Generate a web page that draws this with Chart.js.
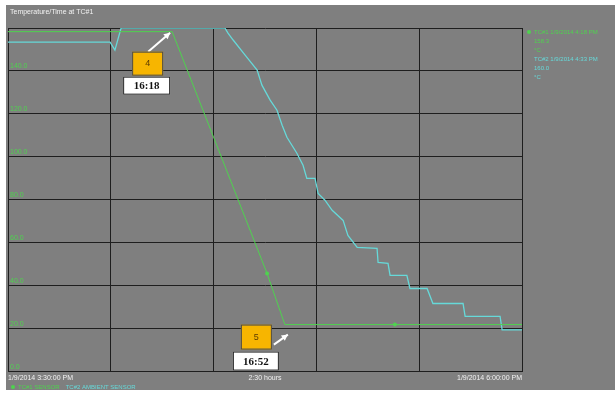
<!DOCTYPE html>
<html>
<head>
<meta charset="utf-8">
<script src="https://cdn.jsdelivr.net/npm/chart.js@4/dist/chart.umd.min.js"></script>
<style>
  body { margin: 0; background: #fff; }
  canvas { display: block; }
</style>
</head>
<body>
<canvas id="myChart" width="615" height="393"></canvas>
<script>
// minutes after 3:30 PM, temperature
const tc1Minutes = [0, 47.9, 75.6, 80.8, 112.9, 150];
const tc1Temps = [158.3, 158.3, 45.7, 21.9, 21.9, 21.9];
const tc1Dots = [0, 0, 2, 0, 2, 0];

const tc2Minutes = [0, 29.8, 31.2, 33.0, 63.3, 64.2, 65.7, 69.2, 72.7, 74.1, 76.5, 78.5, 80.0, 81.4, 84.3,
  86.1, 87.2, 89.6, 90.5, 92.5, 94.6, 97.8, 99.2, 101.9, 107.7, 108.0, 110.9, 111.5, 116.4, 117.3,
  122.3, 124.0, 132.8, 133.4, 143.6, 144.2, 150];
const tc2Temps = [153.4, 153.4, 149.7, 160, 160, 157.6, 154.4, 147.4, 140.4, 133.4, 126.4, 121.7, 114.7, 109.1, 101.7,
  96.1, 90.0, 90.0, 83.0, 79.8, 75.1, 70.4, 63.4, 57.8, 57.4, 50.8, 50.4, 44.8, 44.8, 38.7,
  38.7, 31.7, 31.7, 25.7, 25.7, 19.4, 19.4];

const xTickLabels = { 0: "1/9/2014 3:30:00 PM", 75: "2:30 hours", 150: "1/9/2014 6:00:00 PM" };
const xGrid = [0, 30, 60, 75, 90, 120, 150];

// callouts: [dataset index, point index, number, time]
const callouts = [[0, 1, "4", "16:18"], [0, 3, "5", "16:52"]];

const GREEN = "#4fd24f";
const CYAN = "#66d9d9";
const FONT = "'Liberation Sans', Arial, sans-serif";

function toPoints(xs, ys) {
  return xs.map(function (x, i) { return { x: x, y: ys[i] }; });
}

const background = {
  id: "background",
  beforeDraw(chart) {
    const c = chart.ctx;
    c.save();
    c.fillStyle = "#fff";
    c.fillRect(0, 0, chart.width, chart.height);
    c.fillStyle = "#7f7f7f";
    c.fillRect(6, 5, chart.width - 6, 385);
    c.restore();
  }
};

const texts = {
  id: "texts",
  afterDraw(chart) {
    const c = chart.ctx;
    c.save();
    c.font = "7px " + FONT;
    c.textBaseline = "middle";
    c.textAlign = "left";
    c.fillStyle = "#f2f2f2";
    c.fillText("Temperature/Time at TC#1", 10, 12);

    // right legend
    c.font = "6px " + FONT;
    const lx = chart.chartArea.right + 5;
    c.fillStyle = GREEN;
    c.beginPath();
    c.arc(lx + 2, 32, 2, 0, Math.PI * 2);
    c.fill();
    c.fillText("TC#1 1/9/2014 4:18 PM", lx + 7, 32);
    c.fillText("158.3", lx + 7, 41);
    c.fillText("°C", lx + 7, 50);
    c.fillStyle = CYAN;
    c.fillText("TC#2 1/9/2014 4:33 PM", lx + 7, 59);
    c.fillText("160.0", lx + 7, 68);
    c.fillText("°C", lx + 7, 77);

    // bottom legend
    c.fillStyle = GREEN;
    c.beginPath();
    c.arc(13, 387, 2, 0, Math.PI * 2);
    c.fill();
    c.fillText("TC#1 SENSOR", 18, 387);
    c.fillStyle = CYAN;
    c.fillText("TC#2 AMBIENT SENSOR", 18 + c.measureText("TC#1 SENSOR").width + 6, 387);
    c.restore();
  }
};

const callout = {
  id: "callout",
  afterDatasetsDraw(chart) {
    const c = chart.ctx;
    for (const co of callouts) {
      const pt = chart.getDatasetMeta(co[0]).data[co[1]];
      const ax = pt.x, ay = pt.y;
      let box, lab, tail, tip;
      if (ay < 100) {
        box = [ax - 40, ay + 20, 31, 24];
        lab = [ax - 49, ay + 45, 47, 18];
        tail = [ax - 24, ay + 20];
        tip = [ax - 2, ay + 1];
      } else {
        box = [ax - 44, ay, 31, 25];
        lab = [ax - 52, ay + 27, 46, 19];
        tail = [ax - 11, ay + 20];
        tip = [ax + 3, ay + 10];
      }
      c.save();
      // arrow
      c.strokeStyle = "#fff";
      c.fillStyle = "#fff";
      c.lineWidth = 2;
      c.beginPath();
      c.moveTo(tail[0], tail[1]);
      c.lineTo(tip[0], tip[1]);
      c.stroke();
      const a = Math.atan2(tip[1] - tail[1], tip[0] - tail[0]);
      c.beginPath();
      c.moveTo(tip[0], tip[1]);
      c.lineTo(tip[0] - 7 * Math.cos(a - 0.5), tip[1] - 7 * Math.sin(a - 0.5));
      c.lineTo(tip[0] - 7 * Math.cos(a + 0.5), tip[1] - 7 * Math.sin(a + 0.5));
      c.closePath();
      c.fill();
      // orange box
      c.fillStyle = "#f7b500";
      c.fillRect(box[0], box[1], box[2], box[3]);
      c.strokeStyle = "#4a4a4a";
      c.lineWidth = 1;
      c.strokeRect(box[0] + 0.5, box[1] + 0.5, box[2] - 1, box[3] - 1);
      c.fillStyle = "#5a3a00";
      c.font = "9px " + FONT;
      c.textAlign = "center";
      c.textBaseline = "middle";
      c.fillText(co[2], box[0] + box[2] / 2, box[1] + box[3] / 2);
      // time label
      c.fillStyle = "#fff";
      c.fillRect(lab[0], lab[1], lab[2], lab[3]);
      c.strokeStyle = "#222";
      c.strokeRect(lab[0] + 0.5, lab[1] + 0.5, lab[2] - 1, lab[3] - 1);
      c.fillStyle = "#111";
      c.font = "bold 11px 'Liberation Serif', serif";
      c.fillText(co[3], lab[0] + lab[2] / 2, lab[1] + lab[3] / 2 + 1);
      c.restore();
    }
  }
};

const ctx = document.getElementById("myChart").getContext("2d");
const myChart = new Chart(ctx, {
  type: "line",
  data: {
    datasets: [
      {
        label: "TC#1",
        data: toPoints(tc1Minutes, tc1Temps),
        borderColor: GREEN,
        backgroundColor: GREEN,
        borderWidth: 1,
        pointRadius: tc1Dots,
        pointBorderWidth: 0,
        tension: 0
      },
      {
        label: "TC#2",
        data: toPoints(tc2Minutes, tc2Temps),
        borderColor: CYAN,
        backgroundColor: CYAN,
        borderWidth: 1.3,
        pointRadius: 0,
        tension: 0
      }
    ]
  },
  options: {
    responsive: false,
    animation: false,
    devicePixelRatio: 1,
    layout: { padding: { left: 4, top: 28, right: 93, bottom: 9 } },
    plugins: { legend: { display: false }, tooltip: { enabled: false } },
    scales: {
      x: {
        type: "linear",
        min: 0,
        max: 150,
        afterBuildTicks: function (scale) {
          scale.ticks = xGrid.map(function (v) { return { value: v }; });
        },
        grid: {
          drawTicks: false,
          color: function (c) { return c.tick && c.tick.value === 75 ? "rgba(0,0,0,0)" : "#1e1e1e"; }
        },
        border: { color: "#1e1e1e" },
        ticks: {
          autoSkip: false,
          maxRotation: 0,
          align: "inner",
          padding: 2,
          color: "#f2f2f2",
          font: { family: FONT, size: 7 },
          callback: function (v) { return xTickLabels[v] || ""; }
        }
      },
      y: {
        min: 0,
        max: 160,
        grid: { drawTicks: false, color: "#1e1e1e" },
        border: { color: "#1e1e1e" },
        ticks: {
          stepSize: 20,
          mirror: true,
          padding: 2,
          labelOffset: -5,
          color: GREEN,
          font: { family: FONT, size: 7 },
          callback: function (v) { return v === 160 ? "" : v.toFixed(1); }
        }
      }
    }
  },
  plugins: [background, texts, callout]
});
</script>
</body>
</html>
